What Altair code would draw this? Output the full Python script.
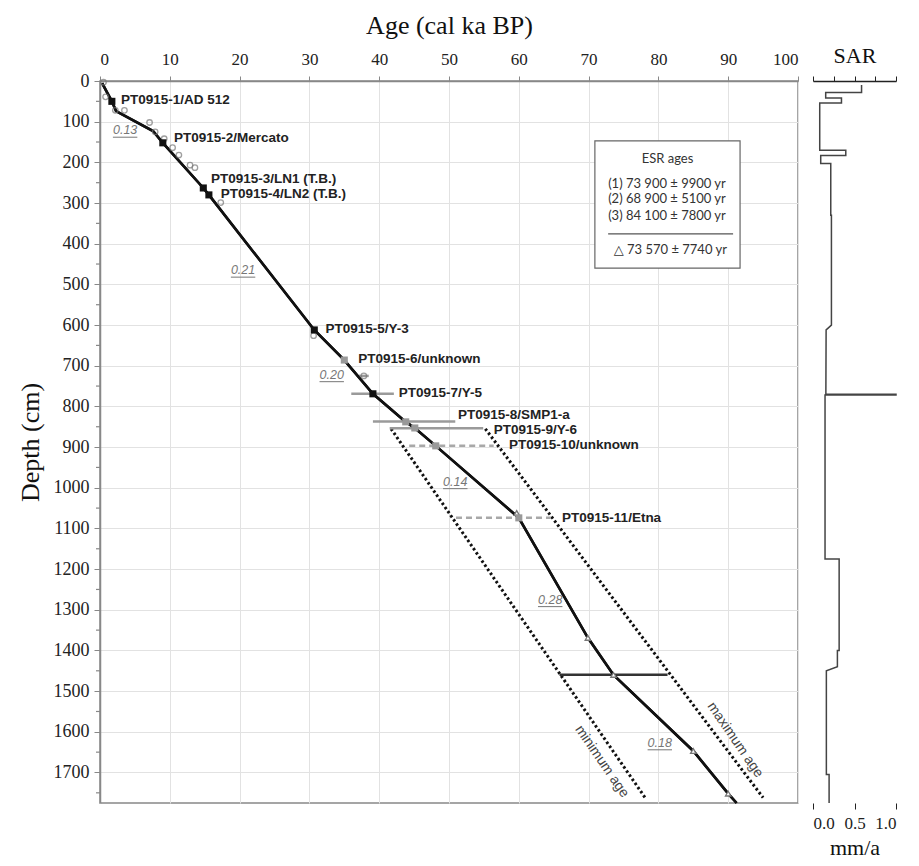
import altair as alt
import pandas as pd

# ---------------- data ----------------
model_age = [0.3, 1.7, 2.3, 7.6, 9.0, 14.8, 15.6, 30.7, 35.0, 39.1, 43.8, 45.1, 48.1, 60.0, 69.9, 73.57, 85.0, 90.0, 91.2]
model_depth = [5, 50, 74, 123, 152, 263, 280, 612, 686, 769, 838, 853, 897, 1074, 1369, 1460, 1647, 1752, 1775]

min_age = [41.7, 78.1]
max_age = [55.2, 95.0]
bound_depth = [855, 1762]

sq_black_age = [1.7, 9.0, 14.8, 15.6, 30.7, 39.1]
sq_black_depth = [50, 152, 263, 280, 612, 769]
sq_gray_age = [35.0, 43.8, 45.1, 48.1, 60.0]
sq_gray_depth = [686, 838, 853, 897, 1074]

tri_age = [59.7, 69.9, 73.57, 85.0, 90.0]
tri_depth = [1062, 1369, 1460, 1647, 1752]

circ_age = [0.5, 0.8, 2.2, 3.5, 7.1, 7.9, 9.2, 10.4, 11.3, 12.9, 13.6, 17.3, 30.6, 37.8]
circ_depth = [3, 39, 72, 72, 102, 125, 142, 164, 182, 207, 213, 299, 626, 725]

err_solid_lo = [36.0, 39.1, 41.5, 37.1]
err_solid_hi = [42.1, 50.9, 54.9, 38.5]
err_solid_depth = [769, 837, 854, 725]
err_dash_lo = [44.3, 51.0]
err_dash_hi = [56.4, 64.6]
err_dash_depth = [897, 1074]
esr_lo = [65.83]
esr_hi = [81.31]
esr_depth = [1460]

lab_text = ["PT0915-1/AD 512", "PT0915-2/Mercato", "PT0915-3/LN1 (T.B.)", "PT0915-4/LN2 (T.B.)",
            "PT0915-5/Y-3", "PT0915-6/unknown", "PT0915-7/Y-5", "PT0915-8/SMP1-a",
            "PT0915-9/Y-6", "PT0915-10/unknown", "PT0915-11/Etna"]
lab_age = [3.0, 10.6, 15.9, 17.3, 32.3, 37.0, 42.8, 51.3, 56.4, 58.6, 66.2]
lab_depth = [47, 139, 242, 279, 610, 684, 768, 822, 857, 894, 1074]

rate_text = ["0.13", "0.21", "0.20", "0.14", "0.28", "0.18"]
rate_age = [3.6, 20.5, 33.2, 50.9, 64.5, 80.2]
rate_depth = [121, 465, 722, 985, 1275, 1627]

bound_text = ["minimum age", "maximum age"]
bound_lab_age = [71.9, 91.0]
bound_lab_depth = [1673, 1620]

box_age = [70.9, 91.7]
box_depth = [147, 460]
box_lines = ["(1) 73 900 ± 9900 yr", "(2) 68 900 ± 5100 yr", "(3) 84 100 ± 7800 yr", "△ 73 570 ± 7740 yr"]
box_line_age = [72.8, 72.8, 72.8, 73.6]
box_line_depth = [253, 290, 332, 415]
box_title = ["ESR ages"]
box_title_age = [81.3]
box_title_depth = [192]
box_sep_age = [72.8, 90.7]
box_sep_depth = [376]

minor_depth = list(range(50, 1775, 100))

sar_depth = [10, 28, 28, 42, 42, 54, 54, 170, 170, 183, 183, 203, 203, 330, 330, 600, 612, 770, 770, 772, 772,
             1175, 1175, 1400, 1400, 1440, 1450, 1705, 1705, 1775]
sar_value = [0.585, 0.585, 0.153, 0.153, 0.343, 0.343, 0.081, 0.081, 0.395, 0.395, 0.093, 0.093, 0.214, 0.214,
             0.222, 0.222, 0.158, 0.155, 1.0, 1.0, 0.145, 0.145, 0.315, 0.315, 0.294, 0.294, 0.161, 0.161,
             0.194, 0.194]

# ---------------- scales ----------------
SERIF = "Liberation Serif"
SANS = "Liberation Sans"
xs = alt.Scale(domain=[0, 100], nice=False, zero=False)
ys = alt.Scale(domain=[0, 1775], nice=False, zero=False, reverse=True)


def X(f):
    return alt.X(f, type="quantitative", scale=xs)


def Y(f):
    return alt.Y(f, type="quantitative", scale=ys)


df_model = pd.DataFrame({"age": model_age, "depth": model_depth, "i": range(len(model_age))})

base = alt.Chart(df_model).mark_line(color="#111", strokeWidth=2.6).encode(
    x=alt.X("age:Q", scale=xs, axis=alt.Axis(
        orient="top", values=list(range(0, 101, 5)), title="Age (cal ka BP)", labelOverlap=False,
        labelFont=SERIF, labelFontSize=17, labelColor="#222", titleFont=SERIF, titleFontSize=26,
        titleFontWeight="normal", titleColor="#111", tickSize=5, tickColor="#888", domainColor="#888",
        domainWidth=1.5, gridColor="#e2e2e2", labelPadding=8, titlePadding=12, grid=True)),
    y=alt.Y("depth:Q", scale=ys, axis=alt.Axis(
        orient="left", values=list(range(0, 1701, 100)), title="Depth (cm)", format="d", labelOverlap=False,
        labelFont=SERIF, labelFontSize=18, labelColor="#222", titleFont=SERIF, titleFontSize=26,
        titleFontWeight="normal", titleColor="#111", tickSize=6, tickColor="#888", domainColor="#888",
        domainWidth=1.5, gridColor="#e2e2e2", labelPadding=5, titlePadding=10, grid=True)),
    order="i:Q",
)

df_min = pd.DataFrame({"age": min_age, "depth": bound_depth})
df_max = pd.DataFrame({"age": max_age, "depth": bound_depth})
min_line = alt.Chart(df_min).mark_line(color="#111", strokeWidth=3, strokeDash=[2.5, 2.5]).encode(x=X("age"), y=Y("depth"))
max_line = alt.Chart(df_max).mark_line(color="#111", strokeWidth=3, strokeDash=[2.5, 2.5]).encode(x=X("age"), y=Y("depth"))

df_es = pd.DataFrame({"age": err_solid_lo, "hi": err_solid_hi, "depth": err_solid_depth})
err_solid = alt.Chart(df_es).mark_rule(color="#9a9a9a", strokeWidth=2.5).encode(x=X("age"), x2="hi", y=Y("depth"))
df_ed = pd.DataFrame({"age": err_dash_lo, "hi": err_dash_hi, "depth": err_dash_depth})
err_dash = alt.Chart(df_ed).mark_rule(color="#a8a8a8", strokeWidth=2.5, strokeDash=[6, 4]).encode(x=X("age"), x2="hi", y=Y("depth"))
df_esr = pd.DataFrame({"age": esr_lo, "hi": esr_hi, "depth": esr_depth})
err_esr = alt.Chart(df_esr).mark_rule(color="#333", strokeWidth=2.5).encode(x=X("age"), x2="hi", y=Y("depth"))

df_c = pd.DataFrame({"age": circ_age, "depth": circ_depth})
circles = alt.Chart(df_c).mark_point(shape="circle", size=30, filled=False, color="#777", strokeWidth=1.3).encode(x=X("age"), y=Y("depth"))

df_sb = pd.DataFrame({"age": sq_black_age, "depth": sq_black_depth})
sq_black = alt.Chart(df_sb).mark_point(shape="square", size=50, filled=True, color="#111", opacity=1).encode(x=X("age"), y=Y("depth"))
df_sg = pd.DataFrame({"age": sq_gray_age, "depth": sq_gray_depth})
sq_gray = alt.Chart(df_sg).mark_point(shape="square", size=50, filled=True, color="#999", opacity=1).encode(x=X("age"), y=Y("depth"))

df_t = pd.DataFrame({"age": tri_age, "depth": tri_depth})
tris = alt.Chart(df_t).mark_point(shape="triangle-up", size=30, filled=True, fill="white", stroke="#777", strokeWidth=1.3, opacity=1).encode(x=X("age"), y=Y("depth"))

df_lab = pd.DataFrame({"t": lab_text, "age": lab_age, "depth": lab_depth})
labels = alt.Chart(df_lab).mark_text(align="left", baseline="middle", font=SANS, fontSize=13.5, fontWeight="bold", color="#222").encode(
    x=X("age"), y=Y("depth"), text="t:N")

df_rate = pd.DataFrame({"t": rate_text, "age": rate_age, "depth": rate_depth})
df_rate["hi"] = df_rate["age"] + 1.75
df_rate["lo"] = df_rate["age"] - 1.75
rates = alt.Chart(df_rate).mark_text(align="center", baseline="middle", font=SANS, fontSize=12.5, fontStyle="italic", color="#777").encode(
    x=X("age"), y=Y("depth"), text="t:N")
df_ul = pd.DataFrame({"age": df_rate["lo"], "hi": df_rate["hi"], "depth": df_rate["depth"]})
rate_ul = alt.Chart(df_ul).mark_rule(color="#777", strokeWidth=1, yOffset=7).encode(x=X("age"), x2="hi", y=Y("depth"))

df_bl = pd.DataFrame({"t": bound_text, "age": bound_lab_age, "depth": bound_lab_depth})
bound_labels = alt.Chart(df_bl).mark_text(align="center", baseline="middle", font=SANS, fontSize=14, color="#444", angle=55.5).encode(
    x=X("age"), y=Y("depth"), text="t:N")

df_box = pd.DataFrame({"age": [box_age[0]], "a2": [box_age[1]], "depth": [box_depth[0]], "d2": [box_depth[1]]})
box = alt.Chart(df_box).mark_rect(fill="white", stroke="#666", strokeWidth=1.2).encode(x=X("age"), x2="a2", y=Y("depth"), y2="d2")
df_bt = pd.DataFrame({"t": box_title, "age": box_title_age, "depth": box_title_depth})
box_t = alt.Chart(df_bt).mark_text(align="center", baseline="middle", font="Lato", fontSize=13, color="#333").encode(
    x=X("age"), y=Y("depth"), text="t:N")
df_bx = pd.DataFrame({"t": box_lines, "age": box_line_age, "depth": box_line_depth})
box_x = alt.Chart(df_bx).mark_text(align="left", baseline="middle", font="Lato, DejaVu Sans", fontSize=13, color="#333").encode(
    x=X("age"), y=Y("depth"), text="t:N")
df_sep = pd.DataFrame({"age": [box_sep_age[0]], "a2": [box_sep_age[1]], "depth": box_sep_depth})
box_sep = alt.Chart(df_sep).mark_rule(color="#555", strokeWidth=1.2).encode(x=X("age"), x2="a2", y=Y("depth"))

df_minor = pd.DataFrame({"depth": minor_depth})
minor = alt.Chart(df_minor).mark_rule(color="#888", strokeWidth=1.2).encode(
    x=alt.value(-4), x2=alt.value(0), y=Y("depth"))

main = alt.layer(
    base, box, box_sep, box_t, box_x, min_line, max_line, err_solid, err_dash, err_esr,
    base, circles, tris, sq_gray, sq_black, labels, rates, rate_ul, bound_labels, minor
).properties(width=698, height=722, view=alt.ViewBackground(stroke="#888", strokeWidth=1.5))

# ---------------- SAR panel ----------------
df_sar = pd.DataFrame({"v": sar_value, "depth": sar_depth, "i": range(len(sar_value))})
sxs = alt.Scale(domain=[0, 1], nice=False, zero=False)
sar_line = alt.Chart(df_sar).mark_line(color="#444", strokeWidth=1.5).encode(
    x=alt.X("v:Q", scale=sxs, axis=alt.Axis(
        orient="top", values=[0, 0.25, 0.5, 0.75, 1.0], labels=False, title="SAR", titleFont=SERIF,
        titleFontSize=22, titleFontWeight="normal", titleColor="#111", tickSize=5, tickColor="#222",
        domainColor="#222", domainWidth=1.5, grid=False, titlePadding=8)),
    y=alt.Y("depth:Q", scale=ys, axis=alt.Axis(
        orient="left", labels=False, ticks=False, title=None, grid=False, domainColor="#111", domainWidth=2.5)),
    order="i:Q",
)
sar_bottom = alt.Chart(df_sar).mark_point(opacity=0).encode(
    x=alt.X("v:Q", scale=sxs, axis=alt.Axis(
        orient="bottom", values=[0, 0.5, 1.0], format=".1f", title="mm/a", labelFont=SERIF, labelFontSize=17,
        labelColor="#222", titleFont=SERIF, titleFontSize=22, titleFontWeight="normal", titleColor="#111",
        tickSize=6, tickColor="#222", domain=False, grid=False, labelPadding=6, titlePadding=6,
        labelOverlap=False)),
    y=alt.Y("depth:Q", scale=ys, axis=None),
)
sar = alt.layer(sar_line, sar_bottom).resolve_axis(x="independent").properties(
    width=83, height=722, view=alt.ViewBackground(strokeWidth=0))

chart = alt.hconcat(main, sar, spacing=15, bounds="flush").properties(
    padding={"left": 8, "top": 3, "right": 0, "bottom": 0}
).configure(background="white")

chart.save("out.html", embed_options={"renderer": "svg", "actions": False})
